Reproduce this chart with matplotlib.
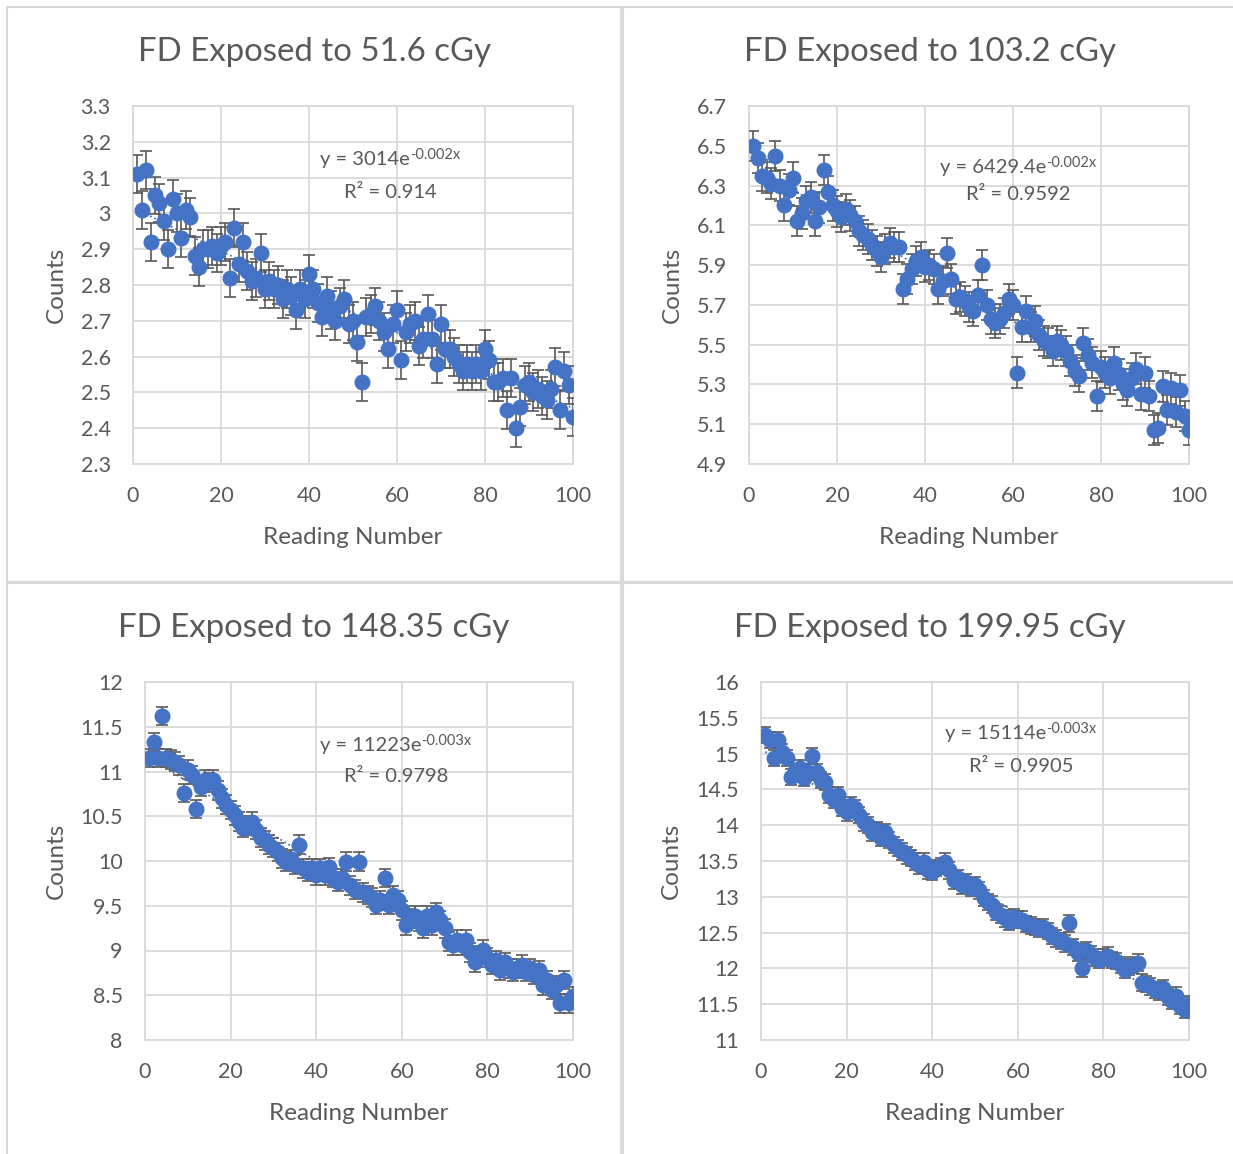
import numpy as np
import matplotlib
matplotlib.use('Agg')
import matplotlib.pyplot as plt
from matplotlib.patches import Rectangle
from matplotlib.ticker import FixedLocator, FuncFormatter

plt.rcParams['font.family'] = ['Lato', 'DejaVu Sans']

reading = np.arange(1, 101)

# counts (thousands) for each reading
counts_516 = [3.11, 3.01, 3.12, 2.92, 3.05, 3.03, 2.98, 2.90, 3.04, 3.00,
              2.93, 3.01, 2.99, 2.88, 2.85, 2.90, 2.90, 2.91, 2.89, 2.91,
              2.92, 2.82, 2.96, 2.86, 2.92, 2.84, 2.81, 2.82, 2.89, 2.79,
              2.81, 2.79, 2.80, 2.76, 2.79, 2.77, 2.73, 2.79, 2.76, 2.83,
              2.79, 2.75, 2.71, 2.77, 2.73, 2.70, 2.74, 2.76, 2.69, 2.70,
              2.64, 2.53, 2.71, 2.72, 2.74, 2.70, 2.67, 2.62, 2.69, 2.73,
              2.59, 2.67, 2.69, 2.70, 2.63, 2.65, 2.72, 2.65, 2.58, 2.69,
              2.62, 2.62, 2.60, 2.58, 2.56, 2.58, 2.56, 2.58, 2.56, 2.62,
              2.59, 2.53, 2.53, 2.54, 2.45, 2.54, 2.40, 2.46, 2.52, 2.53,
              2.50, 2.51, 2.49, 2.48, 2.51, 2.57, 2.45, 2.56, 2.52, 2.43]

counts_1032 = [6.50, 6.44, 6.35, 6.34, 6.31, 6.45, 6.30, 6.20, 6.28, 6.34,
               6.12, 6.16, 6.22, 6.24, 6.12, 6.19, 6.38, 6.27, 6.20, 6.17,
               6.14, 6.18, 6.15, 6.12, 6.07, 6.05, 6.03, 6.00, 5.97, 5.94,
               5.98, 6.01, 5.99, 5.99, 5.78, 5.83, 5.88, 5.92, 5.94, 5.89,
               5.90, 5.88, 5.78, 5.82, 5.96, 5.83, 5.73, 5.74, 5.72, 5.69,
               5.67, 5.75, 5.90, 5.70, 5.63, 5.61, 5.63, 5.66, 5.73, 5.70,
               5.36, 5.59, 5.67, 5.59, 5.62, 5.55, 5.52, 5.51, 5.47, 5.52,
               5.50, 5.47, 5.42, 5.37, 5.34, 5.51, 5.45, 5.41, 5.24, 5.39,
               5.36, 5.33, 5.41, 5.35, 5.30, 5.27, 5.33, 5.38, 5.25, 5.36,
               5.24, 5.07, 5.08, 5.29, 5.17, 5.28, 5.16, 5.27, 5.14, 5.07]

counts_14835 = [11.15, 11.33, 11.15, 11.62, 11.15, 11.13, 11.11, 11.07, 10.76, 11.02,
                10.96, 10.58, 10.83, 10.91, 10.88, 10.91, 10.79, 10.70, 10.63, 10.57,
                10.51, 10.44, 10.37, 10.40, 10.44, 10.35, 10.26, 10.23, 10.18, 10.15,
                10.10, 10.03, 9.99, 10.02, 9.96, 10.18, 9.92, 9.88, 9.92, 9.84,
                9.92, 9.84, 9.93, 9.81, 9.77, 9.81, 9.99, 9.73, 9.68, 9.99,
                9.65, 9.62, 9.59, 9.51, 9.56, 9.81, 9.51, 9.62, 9.56, 9.45,
                9.28, 9.36, 9.39, 9.32, 9.25, 9.39, 9.28, 9.43, 9.34, 9.25,
                9.10, 9.06, 9.12, 9.06, 9.12, 8.98, 8.87, 8.95, 9.01, 8.92,
                8.84, 8.89, 8.78, 8.87, 8.80, 8.76, 8.80, 8.84, 8.76, 8.80,
                8.73, 8.78, 8.61, 8.67, 8.56, 8.61, 8.41, 8.67, 8.41, 8.49]

counts_19995 = [15.26, 15.19, 14.94, 15.19, 15.02, 14.94, 14.67, 14.74, 14.80, 14.66,
                14.74, 14.97, 14.74, 14.63, 14.60, 14.42, 14.35, 14.42, 14.24, 14.18,
                14.28, 14.24, 14.14, 14.04, 14.00, 13.90, 13.93, 13.82, 13.90, 13.79,
                13.72, 13.68, 13.63, 13.58, 13.54, 13.49, 13.44, 13.49, 13.37, 13.35,
                13.40, 13.43, 13.49, 13.37, 13.23, 13.26, 13.16, 13.21, 13.12, 13.16,
                13.09, 12.98, 12.93, 12.89, 12.79, 12.75, 12.70, 12.65, 12.72, 12.68,
                12.68, 12.62, 12.60, 12.58, 12.55, 12.58, 12.52, 12.45, 12.42, 12.38,
                12.35, 12.63, 12.30, 12.22, 12.00, 12.25, 12.20, 12.15, 12.12, 12.15,
                12.18, 12.12, 12.10, 12.05, 11.98, 12.02, 12.05, 12.08, 11.80, 11.78,
                11.75, 11.70, 11.68, 11.72, 11.60, 11.55, 11.62, 11.48, 11.42, 11.50]

titles = ['FD Exposed to 51.6 cGy', 'FD Exposed to 103.2 cGy',
          'FD Exposed to 148.35 cGy', 'FD Exposed to 199.95 cGy']
series = [counts_516, counts_1032, counts_14835, counts_19995]
errors = [0.053, 0.076, 0.105, 0.115]

# trendline labels as printed on each chart
fit_a_txt = ['3014', '6429.4', '11223', '15114']
fit_b_txt = ['-0.002x', '-0.002x', '-0.003x', '-0.003x']
fit_r2 = ['0.914', '0.9592', '0.9798', '0.9905']

y_ranges = [(2.3, 3.3, 0.1), (4.9, 6.7, 0.2), (8, 12, 0.5), (11, 16, 0.5)]

W, H = 1233, 1154
fig = plt.figure(figsize=(W / 100, H / 100), dpi=100)

grey = '#595959'
grid = '#D9D9D9'
blue = '#4472C4'

# chart area frames (pixels: left, top, right, bottom)
boxes = [(7, 7, 621, 582), (623, 7, 1240, 582), (7, 583, 621, 1160), (623, 583, 1240, 1160)]
for l, t, r, b in boxes:
    fig.add_artist(Rectangle((l / W, 1 - b / H), (r - l) / W, (b - t) / H,
                             transform=fig.transFigure, fill=False,
                             edgecolor=grid, lw=1.5))

# plot areas (pixels: left, top, right, bottom)
plot_px = [(133, 106, 573, 464), (749, 106, 1189, 464),
           (145, 682, 573, 1040), (761, 682, 1189, 1040)]
title_px = [(314, 52), (930, 52), (314, 628), (930, 628)]
eq_px = [(390, 160, 192), (1018, 168, 195), (396, 746, 776), (1021, 734, 766)]

eq_parts = []
for i in range(4):
    l, t, r, b = plot_px[i]
    ax = fig.add_axes([l / W, 1 - b / H, (r - l) / W, (b - t) / H])
    y = np.array(series[i])
    lo, hi, step = y_ranges[i]

    # exponential trendline fitted on log(counts)
    b_fit, ln_a = np.polyfit(reading, np.log(y), 1)
    xs = np.linspace(1, 100, 200)
    ax.plot(xs, np.exp(ln_a) * np.exp(b_fit * xs), color=blue, lw=1.3,
            ls=(0, (1, 1.6)), zorder=2)

    ax.errorbar(reading, y, yerr=errors[i], fmt='o', color=blue, ms=10.5,
                ecolor=grey, elinewidth=1.2, capsize=4.3, capthick=1.2, zorder=3)

    ax.set_xlim(0, 100)
    ax.set_ylim(lo, hi)
    ax.xaxis.set_major_locator(FixedLocator(np.arange(0, 101, 20)))
    ax.yaxis.set_major_locator(FixedLocator(np.round(np.arange(lo, hi + step / 2, step), 2)))
    ax.yaxis.set_major_formatter(FuncFormatter(lambda v, p: f'{round(v, 2):g}'))
    ax.grid(True, color=grid, lw=1.3, zorder=0)
    ax.set_axisbelow(True)
    for s in ax.spines.values():
        s.set_color(grid)
        s.set_linewidth(1.3)
    ax.tick_params(length=0, pad=16, labelsize=15.5, labelcolor=grey)
    ax.set_xlabel('Reading Number', fontsize=17.5, color=grey, labelpad=15)
    ax.set_ylabel('Counts', fontsize=17.5, color=grey, labelpad=10)

    tx, ty = title_px[i]
    fig.text(tx / W, 1 - ty / H, titles[i], ha='center', va='center',
             fontsize=23.8, color=grey)

    ex, ey1, ey2 = eq_px[i]
    base = fig.text(ex / W, 1 - ey1 / H, 'y = ' + fit_a_txt[i] + 'e',
                    ha='left', va='center', fontsize=14.5, color=grey)
    sup = fig.text(ex / W, 1 - (ey1 - 5) / H, fit_b_txt[i],
                   ha='left', va='center', fontsize=10.5, color=grey)
    eq_parts.append((base, sup, ex))
    fig.text(ex / W, 1 - ey2 / H, 'R² = ' + fit_r2[i],
             ha='center', va='center', fontsize=14.5, color=grey)

# centre each equation line (base + superscript) on its anchor
fig.canvas.draw()
rend = fig.canvas.get_renderer()
for base, sup, ex in eq_parts:
    wb = base.get_window_extent(rend).width
    ws = sup.get_window_extent(rend).width
    left = ex - (wb + ws) / 2
    base.set_x(left / W)
    sup.set_x((left + wb) / W)

fig.savefig('out.png', dpi=100, facecolor='white')
